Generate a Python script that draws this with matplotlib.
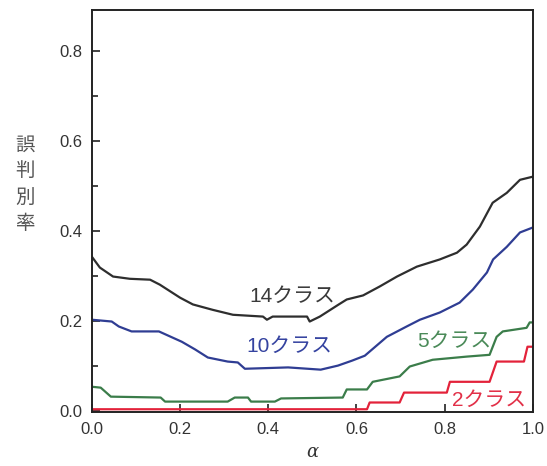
import matplotlib
matplotlib.use('Agg')
import matplotlib.pyplot as plt
from matplotlib.ticker import MultipleLocator

plt.rcParams['font.family'] = ['Liberation Sans', 'Noto Sans CJK JP', 'DejaVu Sans']

# error rate vs alpha
x14 = [0.0, 0.018, 0.048, 0.086, 0.132, 0.154, 0.2, 0.229, 0.274, 0.32, 0.388, 0.397,
       0.41, 0.488, 0.494, 0.517, 0.56, 0.578, 0.615, 0.653, 0.692, 0.737, 0.789, 0.828,
       0.85, 0.88, 0.909, 0.941, 0.971, 1.0]
y14 = [0.342, 0.318, 0.298, 0.293, 0.291, 0.28, 0.251, 0.236, 0.224, 0.213, 0.209, 0.202,
       0.209, 0.209, 0.198, 0.209, 0.236, 0.247, 0.256, 0.276, 0.298, 0.32, 0.336, 0.351,
       0.369, 0.409, 0.462, 0.484, 0.513, 0.52]

x10 = [0.0, 0.045, 0.061, 0.09, 0.152, 0.204, 0.234, 0.263, 0.308, 0.331, 0.347,
       0.445, 0.519, 0.558, 0.59, 0.619, 0.669, 0.714, 0.744, 0.789, 0.834, 0.864,
       0.896, 0.91, 0.941, 0.971, 1.0]
y10 = [0.202, 0.198, 0.187, 0.176, 0.176, 0.153, 0.136, 0.118, 0.109, 0.107, 0.093,
       0.096, 0.091, 0.1, 0.111, 0.122, 0.164, 0.187, 0.202, 0.218, 0.24, 0.269,
       0.307, 0.336, 0.364, 0.396, 0.407]

x5 = [0.0, 0.02, 0.043, 0.156, 0.166, 0.308, 0.324, 0.354, 0.361, 0.415, 0.429,
      0.569, 0.578, 0.624, 0.637, 0.698, 0.721, 0.773, 0.85, 0.902, 0.918, 0.932,
      0.986, 0.993, 1.0]
y5 = [0.053, 0.051, 0.031, 0.029, 0.02, 0.02, 0.029, 0.029, 0.02, 0.02, 0.027,
      0.029, 0.047, 0.047, 0.064, 0.076, 0.098, 0.113, 0.12, 0.124, 0.164, 0.176,
      0.184, 0.196, 0.196]

x2 = [0.0, 0.624, 0.63, 0.698, 0.708, 0.805, 0.812, 0.902, 0.918, 0.98, 0.988, 1.0]
y2 = [0.003, 0.003, 0.018, 0.018, 0.04, 0.04, 0.064, 0.064, 0.109, 0.109, 0.142, 0.142]

labels = ['14クラス', '10クラス', '5クラス', '2クラス']
label_pos = [(0.454, 0.253), (0.449, 0.142), (0.821, 0.153), (0.9, 0.022)]
colors = ['#2e2e2e', '#2f3d93', '#3b7d4a', '#e3223a']
text_colors = ['#3a3a3a', '#3543a0', '#4a8a58', '#e23048']

fig = plt.figure(figsize=(5.47, 4.66), dpi=100)
ax = fig.add_axes([0.168, 0.116, 0.806, 0.863])

for xs, ys, c in zip([x14, x10, x5, x2], [y14, y10, y5, y2], colors):
    ax.plot(xs, ys, color=c, lw=1.6)

for lab, (lx, ly), c in zip(labels, label_pos, text_colors):
    ax.text(lx, ly, lab, color=c, fontsize=15, ha='center', va='center')

ax.set_xlim(0, 1.0)
ax.set_ylim(-0.003, 0.891)
ax.xaxis.set_major_locator(MultipleLocator(0.2))
ax.yaxis.set_major_locator(MultipleLocator(0.2))
ax.yaxis.set_minor_locator(MultipleLocator(0.1))
ax.tick_params(direction='in', length=6, width=1.2, colors='#222', labelcolor='#333',
               labelsize=12, pad=7)
ax.tick_params(which='minor', direction='in', length=4, width=1.2, colors='#222')
ax.set_xticklabels([f'{v:.1f}' for v in ax.get_xticks()])
ax.set_yticklabels([f'{v:.1f}' for v in ax.get_yticks()])
for s in ax.spines.values():
    s.set_linewidth(1.4)
    s.set_color('#222')

fig.text(25 / 547, 1 - 184 / 466, '誤\n判\n別\n率', fontsize=14, color='#555',
         ha='center', va='center', linespacing=1.32, family=['Noto Sans CJK JP'])
fig.text(312 / 547, 1 - 452 / 466, 'α', fontsize=13, color='#333', style='italic',
         ha='center', va='center', family=['DejaVu Serif'])

fig.savefig('out.png', dpi=100)
